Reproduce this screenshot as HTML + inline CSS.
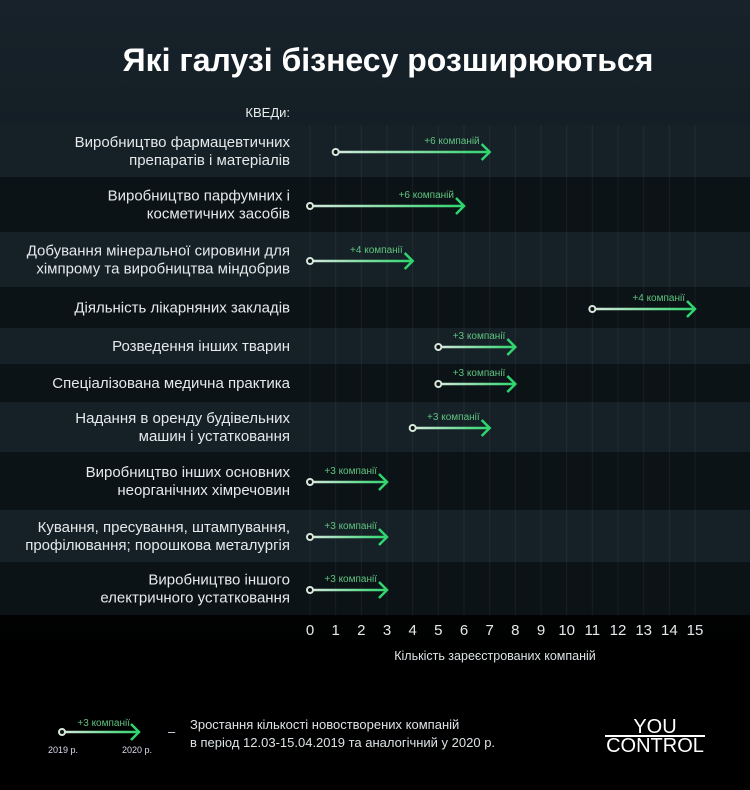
<!DOCTYPE html>
<html><head><meta charset="utf-8"><style>
html,body{margin:0;padding:0;}
body{width:750px;height:790px;overflow:hidden;background:linear-gradient(#17222a 0%,#0e161b 50%,#000 82%,#000 100%);font-family:"Liberation Sans",sans-serif;}
svg{display:block}
</style></head><body>
<svg id="chart" width="750" height="790" xmlns="http://www.w3.org/2000/svg">
<defs id="defs"><linearGradient id="lgLegend" gradientUnits="userSpaceOnUse" x1="62" x2="138" y1="0" y2="0"><stop offset="0" stop-color="#d6e8dc"/><stop offset="1" stop-color="#2fd56e"/></linearGradient></defs>
<text x="388" y="71" text-anchor="middle" fill="#fff" font-size="32" font-weight="bold">Які галузі бізнесу розширюються</text>
<text x="290" y="117" text-anchor="end" fill="#e8ecee" font-size="13">КВЕДи:</text>
<g id="bands"></g><g id="grid"></g><g id="labels"></g><g id="marks"></g><g id="ticks"></g>
<text x="495" y="660" text-anchor="middle" fill="#dde3e6" font-size="12.5">Кількість зареєстрованих компаній</text>
<g>
<line x1="62" y1="732" x2="138" y2="732" stroke="url(#lgLegend)" stroke-width="2.5"/>
<polyline points="131,724 139,732 131,740" fill="none" stroke="#2fd56e" stroke-width="2.5"/>
<circle cx="62" cy="732" r="3" fill="#111" stroke="#d6e8dc" stroke-width="2"/>
<text x="130" y="726" text-anchor="end" fill="#5fc37f" font-size="10">+3 компанії</text>
<text x="48" y="753" fill="#dde" font-size="9">2019 р.</text>
<text x="122" y="753" fill="#dde" font-size="9">2020 р.</text>
<text x="168" y="736" fill="#dde" font-size="13">–</text>
<text x="190" y="729" fill="#dde3e6" font-size="13">Зростання кількості новостворених компаній</text>
<text x="190" y="747" fill="#dde3e6" font-size="13">в період 12.03-15.04.2019 та аналогічний у 2020 р.</text>
</g>
<g>
<text x="655" y="733" text-anchor="middle" fill="#fff" font-size="20">YOU</text>
<line x1="605" y1="736" x2="705" y2="736" stroke="#fff" stroke-width="2"/>
<text x="655" y="752" text-anchor="middle" fill="#fff" font-size="20">CONTROL</text>
</g>
</svg>
<script>
const categories=[["Виробництво фармацевтичних","препаратів і матеріалів"],["Виробництво парфумних і","косметичних засобів"],["Добування мінеральної сировини для","хімпрому та виробництва міндобрив"],["Діяльність лікарняних закладів"],["Розведення інших тварин"],["Спеціалізована медична практика"],["Надання в оренду будівельних","машин і устатковання"],["Виробництво інших основних","неорганічних хімречовин"],["Кування, пресування, штампування,","профілювання; порошкова металургія"],["Виробництво іншого","електричного устатковання"]];
const values2019=[1,0,0,11,5,5,4,0,0,0];
const values2020=[7,6,4,15,8,8,7,3,3,3];
const changeLabels=["+6 компаній","+6 компаній","+4 компанії","+4 компанії","+3 компанії","+3 компанії","+3 компанії","+3 компанії","+3 компанії","+3 компанії"];
const tickValues=[0,1,2,3,4,5,6,7,8,9,10,11,12,13,14,15];
const bandEdges=[125,177,232,287,328,364,402,452,510,562,615];
const NS="http://www.w3.org/2000/svg";
const x=v=>310+v*(385/15);
function mk(t,a,p){const e=document.createElementNS(NS,t);for(const k in a)e.setAttribute(k,a[k]);p.appendChild(e);return e;}
const D=document.getElementById('defs'),B=document.getElementById('bands'),G=document.getElementById('grid'),L=document.getElementById('labels'),M=document.getElementById('marks'),T=document.getElementById('ticks');
categories.forEach((c,i)=>{
 const y0=bandEdges[i],y1=bandEdges[i+1],cy=(y0+y1)/2;
 const r=mk('rect',{x:0,y:y0,width:750,height:y1-y0,fill:i%2?'#0c1317':'#162127'},B);
 
 
 const t=mk('text',{x:290,'text-anchor':'end',fill:'#e4e9eb','font-size':'15'},L);
 
 
 c.forEach((ln,j)=>{const s=mk('tspan',{x:290,y:cy+5+(j-(c.length-1)/2)*18},t);s.textContent=ln;});
 const ay=Math.round(cy)+1,xa=x(values2019[i]),xb=x(values2020[i]);
 const gr=mk('linearGradient',{id:'lg'+i,gradientUnits:'userSpaceOnUse',x1:xa,x2:xb,y1:0,y2:0},D);
 mk('stop',{offset:0,'stop-color':'#d6e8dc'},gr);
 mk('stop',{offset:1,'stop-color':'#2fd56e'},gr);
 const g=mk('g',{},M);
 
 
 mk('line',{x1:xa,y1:ay,x2:xb,y2:ay,stroke:'url(#lg'+i+')','stroke-width':2.5},g);
 mk('polyline',{points:`${xb-8},${ay-8} ${xb},${ay} ${xb-8},${ay+8}`,fill:'none',stroke:'#2fd56e','stroke-width':2.5},g);
 mk('circle',{cx:xa,cy:ay,r:3,fill:'#111','stroke':'#d6e8dc','stroke-width':2},g);
 const lt=mk('text',{x:xb-10,y:ay-8,'text-anchor':'end',fill:'#5fc37f','font-size':'10'},g);
 lt.textContent=changeLabels[i];
});
tickValues.forEach(v=>{
 const l=mk('line',{x1:x(v),y1:125,x2:x(v),y2:615,stroke:'#ffffff','stroke-opacity':0.05,'stroke-width':1},G);
 
 
 const t=mk('text',{x:x(v),y:635,'text-anchor':'middle',fill:'#e4e9eb','font-size':'15'},T);
 
 
 t.textContent=v;
});
</script>
</body></html>
